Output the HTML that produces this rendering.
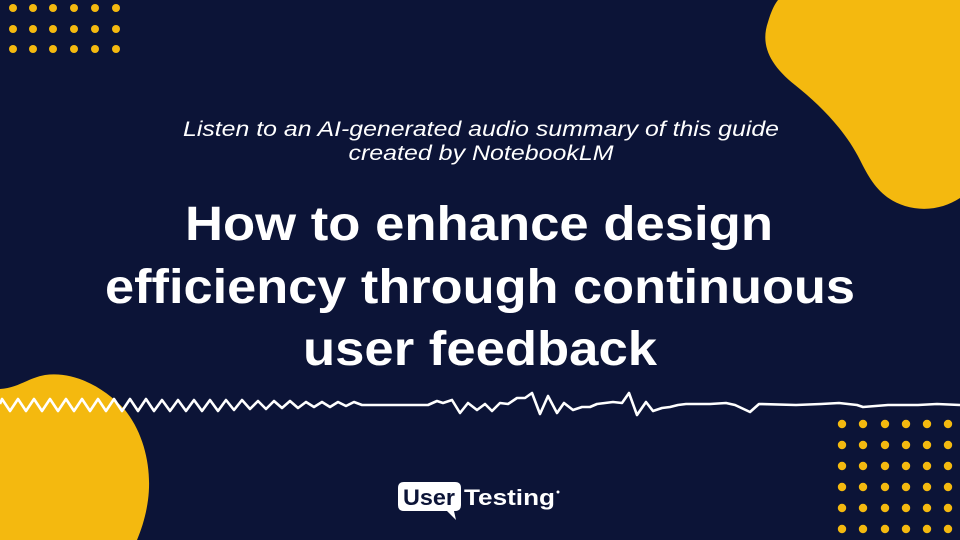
<!DOCTYPE html>
<html><head><meta charset="utf-8"><style>
html,body{margin:0;padding:0;background:#0c1437;}
svg{display:block}
</style></head><body>
<svg width="960" height="540" viewBox="0 0 960 540" xmlns="http://www.w3.org/2000/svg">
<rect width="960" height="540" fill="#0c1437"/>
<path d="M778,0 L960,0 L960,198 C945,208 925,212 905,206 C880,198 870,180 860,160 C845,130 820,105 795,85 C770,65 760,45 768,22 C771,12 774,5 778,0 Z" fill="#f4b90f"/>
<path d="M0,389 C18,388 28,378 45,375 C75,371 105,388 125,410 C145,435 152,470 148,500 C146,515 142,528 137,540 L0,540 Z" fill="#f4b90f"/>
<g fill="#f4b90f">
<circle cx="13" cy="8" r="4"/><circle cx="33" cy="8" r="4"/><circle cx="53" cy="8" r="4"/><circle cx="74" cy="8" r="4"/><circle cx="95" cy="8" r="4"/><circle cx="116" cy="8" r="4"/>
<circle cx="13" cy="29" r="4"/><circle cx="33" cy="29" r="4"/><circle cx="53" cy="29" r="4"/><circle cx="74" cy="29" r="4"/><circle cx="95" cy="29" r="4"/><circle cx="116" cy="29" r="4"/>
<circle cx="13" cy="49" r="4"/><circle cx="33" cy="49" r="4"/><circle cx="53" cy="49" r="4"/><circle cx="74" cy="49" r="4"/><circle cx="95" cy="49" r="4"/><circle cx="116" cy="49" r="4"/>
</g>
<g fill="#f4b90f">
<circle cx="842" cy="424" r="4.2"/><circle cx="863" cy="424" r="4.2"/><circle cx="885" cy="424" r="4.2"/><circle cx="906" cy="424" r="4.2"/><circle cx="927" cy="424" r="4.2"/><circle cx="948" cy="424" r="4.2"/>
<circle cx="842" cy="445" r="4.2"/><circle cx="863" cy="445" r="4.2"/><circle cx="885" cy="445" r="4.2"/><circle cx="906" cy="445" r="4.2"/><circle cx="927" cy="445" r="4.2"/><circle cx="948" cy="445" r="4.2"/>
<circle cx="842" cy="466" r="4.2"/><circle cx="863" cy="466" r="4.2"/><circle cx="885" cy="466" r="4.2"/><circle cx="906" cy="466" r="4.2"/><circle cx="927" cy="466" r="4.2"/><circle cx="948" cy="466" r="4.2"/>
<circle cx="842" cy="487" r="4.2"/><circle cx="863" cy="487" r="4.2"/><circle cx="885" cy="487" r="4.2"/><circle cx="906" cy="487" r="4.2"/><circle cx="927" cy="487" r="4.2"/><circle cx="948" cy="487" r="4.2"/>
<circle cx="842" cy="508" r="4.2"/><circle cx="863" cy="508" r="4.2"/><circle cx="885" cy="508" r="4.2"/><circle cx="906" cy="508" r="4.2"/><circle cx="927" cy="508" r="4.2"/><circle cx="948" cy="508" r="4.2"/>
<circle cx="842" cy="529" r="4.2"/><circle cx="863" cy="529" r="4.2"/><circle cx="885" cy="529" r="4.2"/><circle cx="906" cy="529" r="4.2"/><circle cx="927" cy="529" r="4.2"/><circle cx="948" cy="529" r="4.2"/>
</g>
<polyline fill="none" stroke="#ffffff" stroke-width="2.6" stroke-linejoin="round" points="0,404 2,399 10,411 18,399 26,411 34,399 42,411 50,399 58,411 66,399 74,411 82,399 90,411 98,399 106,411 114,399 122,411 130,399 138,411 146,399 154,411 162,400 170,411 178,400 186,411 194,400 202,411 210,400 218,411 226,400 234,410 242,400 250,409 258,401 266,409 274,401 282,408 290,401 298,408 306,402 314,407 322,402 330,407 338,402 346,406 354,402 362,405 370,405 420,405 428,405 437,401 443,403 452,400 460,413 468,403 477,410 485,404 492,411 500,403 508,404 517,398 525,398 532,393 540,414 548,396 557,413 564,403 573,410 582,407 590,407 597,404 605,403 613,402 622,403 629,393 637,415 646,402 653,411 662,408 670,407 678,405 686,404 710,404 726,403 735,405 750,412 759,404 796,405 821,404 839,403 857,405 863,407 888,405 918,405 937,404 960,405"/>
<g fill="#ffffff" font-family="Liberation Sans, DejaVu Sans, sans-serif" font-style="italic" font-size="21" text-anchor="middle">
<text x="481" y="136" textLength="596" lengthAdjust="spacingAndGlyphs">Listen to an AI-generated audio summary of this guide</text>
<text x="481" y="160" textLength="265" lengthAdjust="spacingAndGlyphs">created by NotebookLM</text>
</g>
<g fill="#ffffff" font-family="Liberation Sans, DejaVu Sans, sans-serif" font-weight="bold" font-size="48" text-anchor="middle">
<text x="479" y="240" textLength="588" lengthAdjust="spacingAndGlyphs">How to enhance design</text>
<text x="480" y="303" textLength="750" lengthAdjust="spacingAndGlyphs">efficiency through continuous</text>
<text x="480" y="365" textLength="354" lengthAdjust="spacingAndGlyphs">user feedback</text>
</g>
<path d="M404,482 L455,482 Q461,482 461,488 L461,505 Q461,511 455,511 L454,511 L456,520 L447,511 L404,511 Q398,511 398,505 L398,488 Q398,482 404,482 Z" fill="#ffffff"/>
<text x="429" y="505" text-anchor="middle" fill="#0c1437" font-family="Liberation Sans, sans-serif" font-weight="bold" font-size="22" textLength="52" lengthAdjust="spacingAndGlyphs">User</text>
<text x="464" y="505" fill="#ffffff" font-family="Liberation Sans, sans-serif" font-weight="bold" font-size="22" textLength="91" lengthAdjust="spacingAndGlyphs">Testing</text>
<circle cx="558" cy="492" r="1.5" fill="#ffffff"/>
</svg>
</body></html>
